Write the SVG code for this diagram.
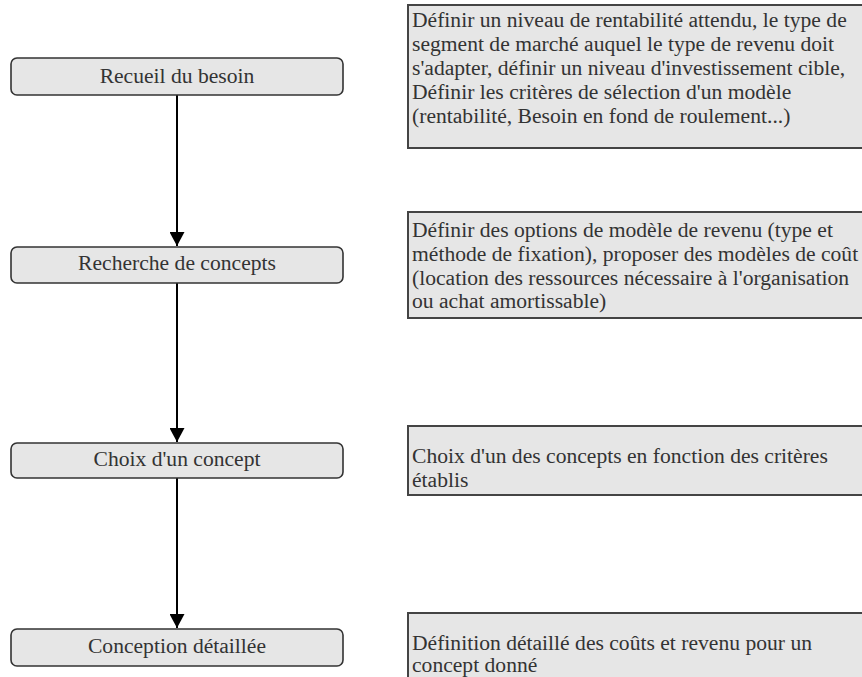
<svg xmlns="http://www.w3.org/2000/svg" width="862" height="677" viewBox="0 0 862 677">
<defs>
<style>
.node{fill:#e6e6e6;stroke:#333;stroke-width:1.6}
.note{fill:#e6e6e6;stroke:#444;stroke-width:2}
.t{font-size:21.6px;fill:#333}
.c{text-anchor:middle}
.edge{stroke:#000;stroke-width:2;fill:none}
</style>
<marker id="ah" viewBox="0 0 14 15" refX="14" refY="7.5" markerWidth="14" markerHeight="15" markerUnits="userSpaceOnUse" orient="auto">
<path d="M0,0 L14,7.5 L0,15 Z" fill="#000"/>
</marker>
</defs>
<rect width="862" height="677" fill="#fff"/>
<g id="connectors">
<line class="edge" x1="177" y1="95" x2="177" y2="246" marker-end="url(#ah)"/>
<line class="edge" x1="177" y1="283" x2="177" y2="442" marker-end="url(#ah)"/>
<line class="edge" x1="177" y1="478" x2="177" y2="628" marker-end="url(#ah)"/>
</g>
<g font-family="'Liberation Serif', 'Times New Roman', serif">
<g id="n1">
<rect class="node" x="11" y="58" width="332" height="37" rx="6"/>
<text class="t c" x="177" y="83">Recueil du besoin</text>
</g>
<g id="n2">
<rect class="node" x="11" y="247" width="332" height="36" rx="6"/>
<text class="t c" x="177" y="270">Recherche de concepts</text>
</g>
<g id="n3">
<rect class="node" x="11" y="443" width="332" height="35" rx="6"/>
<text class="t c" x="177" y="466">Choix d'un concept</text>
</g>
<g id="n4">
<rect class="node" x="11" y="629" width="332" height="37" rx="6"/>
<text class="t c" x="177" y="653">Conception détaillée</text>
</g>
<g id="d1">
<rect class="note" x="408" y="5" width="480" height="143"/>
<text class="t" x="412" y="27">Définir un niveau de rentabilité attendu, le type de</text>
<text class="t" x="412" y="51">segment de marché auquel le type de revenu doit</text>
<text class="t" x="412" y="75">s'adapter, définir un niveau d'investissement cible,</text>
<text class="t" x="412" y="99">Définir les critères de sélection d'un modèle</text>
<text class="t" x="412" y="123">(rentabilité, Besoin en fond de roulement...)</text>
</g>
<g id="d2">
<rect class="note" x="408" y="212" width="480" height="106"/>
<text class="t" x="412" y="237">Définir des options de modèle de revenu (type et</text>
<text class="t" x="412" y="261">méthode de fixation), proposer des modèles de coût</text>
<text class="t" x="412" y="285">(location des ressources nécessaire à l'organisation</text>
<text class="t" x="412" y="308">ou achat amortissable)</text>
</g>
<g id="d3">
<rect class="note" x="408" y="426" width="480" height="69"/>
<text class="t" x="412" y="463">Choix d'un des concepts en fonction des critères</text>
<text class="t" x="412" y="487">établis</text>
</g>
<g id="d4">
<rect class="note" x="408" y="613" width="480" height="90"/>
<text class="t" x="412" y="650">Définition détaillé des coûts et revenu pour un</text>
<text class="t" x="412" y="672">concept donné</text>
</g>
</g>
</svg>
